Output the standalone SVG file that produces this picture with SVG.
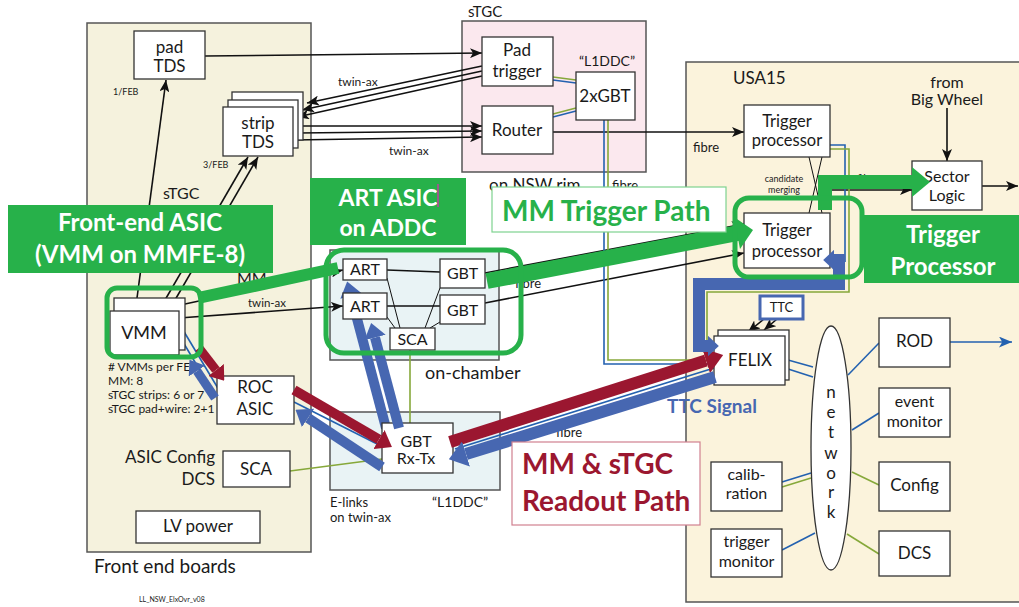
<svg xmlns="http://www.w3.org/2000/svg" width="1019" height="607" viewBox="0 0 1019 607">
<defs>
<style>
text{font-family:Lato,"Liberation Sans",sans-serif;fill:#1a1a1a}
.box{fill:#fff;stroke:#333;stroke-width:1.3}
.panel{stroke:#555;stroke-width:1.5}
.c{text-anchor:middle}
.f17{font-size:17px}
.f16{font-size:16px}
.f13{font-size:13px}
.f12{font-size:12px}
.ln{stroke:#111;stroke-width:1.6;fill:none}
.thin{stroke:#111;stroke-width:1;fill:none}
.fb{stroke:#2361b0;stroke-width:1.6;fill:none}
.fg{stroke:#86a83a;stroke-width:1.6;fill:none}
.ring{fill:none;stroke:#27b14a;stroke-width:5}
.call{font-weight:bold;fill:#fff;text-anchor:middle}
</style>
<marker id="arr" viewBox="0 0 12 10" refX="12" refY="5" markerWidth="12" markerHeight="10" markerUnits="userSpaceOnUse" orient="auto"><path d="M0,0 L12,5 L0,10 L3,5 z" fill="#111"/></marker>
<marker id="arrB" viewBox="0 0 12 10" refX="12" refY="5" markerWidth="13" markerHeight="11" markerUnits="userSpaceOnUse" orient="auto"><path d="M0,0 L12,5 L0,10 L3,5 z" fill="#2361b0"/></marker>
<marker id="hr" viewBox="0 0 8 12" refX="0" refY="6" markerWidth="1.5" markerHeight="2.2" preserveAspectRatio="none" markerUnits="strokeWidth" orient="auto"><path d="M0,0 L8,6 L0,12 z" fill="#9b1730"/></marker>
<marker id="hb" viewBox="0 0 8 12" refX="0" refY="6" markerWidth="1.5" markerHeight="2.2" preserveAspectRatio="none" markerUnits="strokeWidth" orient="auto"><path d="M0,0 L8,6 L0,12 z" fill="#4767b1"/></marker>
<marker id="hbs" viewBox="0 0 8 12" refX="0" refY="6" markerWidth="0.9" markerHeight="1.7" preserveAspectRatio="none" markerUnits="strokeWidth" orient="auto-start-reverse"><path d="M0,0 L8,6 L0,12 z" fill="#4767b1"/></marker>
</defs>

<rect width="1019" height="607" fill="#fff"/>

<!-- enclosing areas -->
<g id="panels">
  <rect class="panel" x="87" y="23" width="224" height="529" fill="#f5f2dd"/>
  <rect class="panel" x="462" y="21" width="184" height="151" fill="#fbe8ee"/>
  <rect class="panel" x="686" y="62" width="345" height="540" fill="#fbf3dc"/>
  <rect class="panel" x="330" y="250" width="169" height="110" fill="#e9f3f5"/>
  <rect class="panel" x="330" y="412" width="170" height="78" fill="#e9f3f5"/>
</g>

<!-- links -->
<g id="connectors">
  <line class="ln" x1="205" y1="56" x2="482" y2="53" marker-end="url(#arr)"/>
  <line class="ln" x1="137" y1="298" x2="166" y2="80" marker-end="url(#arr)"/>
  <line class="ln" x1="165" y1="300" x2="248" y2="157" marker-end="url(#arr)"/>
  <line class="ln" x1="175" y1="300" x2="258" y2="157" marker-end="url(#arr)"/>
  <line class="ln" x1="482" y1="66" x2="307" y2="103" marker-end="url(#arr)"/>
  <line class="ln" x1="482" y1="71" x2="302" y2="110" marker-end="url(#arr)"/>
  <line class="ln" x1="482" y1="76" x2="297" y2="117" marker-end="url(#arr)"/>
  <line class="ln" x1="303" y1="126" x2="482" y2="126" marker-end="url(#arr)"/>
  <line class="ln" x1="298" y1="133" x2="482" y2="131" marker-end="url(#arr)"/>
  <line class="ln" x1="293" y1="140" x2="482" y2="137" marker-end="url(#arr)"/>
  <line class="ln" x1="553" y1="132" x2="744" y2="132" marker-end="url(#arr)"/>
  <line class="ln" x1="179" y1="318" x2="343" y2="306" marker-end="url(#arr)"/>
  <line class="ln" x1="185" y1="304" x2="343" y2="270" marker-end="url(#arr)"/>
  <line class="ln" x1="387" y1="270" x2="440" y2="272"/>
  <line class="ln" x1="387" y1="306" x2="440" y2="306"/>
  <line class="thin" x1="387" y1="278" x2="400" y2="328"/>
  <line class="thin" x1="387" y1="317" x2="395" y2="328"/>
  <line class="thin" x1="440" y1="288" x2="425" y2="328"/>
  <line class="thin" x1="440" y1="322" x2="430" y2="328"/>
  <line class="ln" x1="485" y1="303" x2="744" y2="253" marker-end="url(#arr)"/>
  <line class="ln" x1="485" y1="273" x2="744" y2="224" marker-end="url(#arr)"/>
  <line class="thin" x1="809" y1="157" x2="822" y2="213"/>
  <line class="thin" x1="822" y1="157" x2="809" y2="213"/>
  <line class="ln" x1="830" y1="190" x2="912" y2="190" marker-end="url(#arr)"/>
  <line class="ln" x1="947" y1="108" x2="947" y2="161" marker-end="url(#arr)"/>
  <line class="ln" x1="982" y1="186" x2="1018" y2="186" marker-end="url(#arr)"/>
  <line class="ln" x1="770" y1="314" x2="748" y2="332" marker-end="url(#arr)"/>
  <line class="ln" x1="783" y1="314" x2="764" y2="330" marker-end="url(#arr)"/>

  <!-- optical / e-link pairs -->
  <line class="fg" x1="553" y1="77" x2="576" y2="80"/>
  <line class="fb" x1="553" y1="80" x2="576" y2="83"/>
  <line class="fg" x1="553" y1="114" x2="576" y2="108"/>
  <line class="fb" x1="553" y1="117" x2="576" y2="111"/>
  <path class="fb" d="M604,120 V364 H714"/>
  <path class="fg" d="M608,120 V360 H714"/>
  <path class="fb" d="M830,145 H845 V262"/>
  <path class="fg" d="M830,149 H849 V292 H707 V357 H714"/>
  <line class="fb" x1="183" y1="330" x2="219" y2="390" stroke-width="1.2"/>
  <line class="fb" x1="180" y1="337" x2="214" y2="394" stroke-width="1.2"/>
  <line class="fb" x1="294" y1="402" x2="387" y2="449" stroke-width="1.2"/>
  <line class="fb" x1="455" y1="449" x2="714" y2="368" stroke-width="1.2"/>
  <line class="fg" x1="290" y1="471" x2="382" y2="459"/>
  <line class="fg" x1="410" y1="350" x2="410" y2="423"/>
  <line class="fb" x1="788" y1="360" x2="813" y2="367"/>
  <line class="fb" x1="785" y1="368" x2="813" y2="377"/>
  <line class="fb" x1="848" y1="375" x2="879" y2="343"/>
  <line class="fb" x1="950" y1="342" x2="1012" y2="342" marker-end="url(#arrB)"/>
  <line class="fb" x1="852" y1="430" x2="879" y2="413"/>
  <line class="fg" x1="852" y1="472" x2="879" y2="485"/>
  <line class="fg" x1="847" y1="534" x2="879" y2="554"/>
  <line class="fb" x1="782" y1="482" x2="811" y2="473"/>
  <line class="fg" x1="782" y1="487" x2="811" y2="478"/>
  <line class="fb" x1="782" y1="550" x2="815" y2="533"/>

  <!-- configuration link up to the upper ART, passing behind the lower one -->
  <line x1="386" y1="428" x2="351" y2="296" stroke="#4767b1" stroke-width="10" marker-end="url(#hb)"/>
</g>

<!-- front end boards -->
<g id="pad-tds">
  <rect class="box" x="134" y="31" width="71" height="48"/>
  <text class="c f17" x="169.5" y="53">pad</text>
  <text class="c f17" x="169.5" y="72">TDS</text>
</g>
<g id="strip-tds">
  <rect class="box" x="232" y="92" width="71" height="48"/>
  <rect class="box" x="228" y="100" width="70" height="48"/>
  <rect class="box" x="223" y="107" width="70" height="49"/>
  <text class="c f17" x="258" y="129">strip</text>
  <text class="c f17" x="258" y="148">TDS</text>
</g>
<g id="vmm">
  <rect class="box" x="114" y="298" width="71" height="52"/>
  <rect class="box" x="110" y="311" width="69" height="44"/>
  <text class="c" x="144" y="339" font-size="18">VMM</text>
</g>
<g id="roc-asic">
  <rect class="box" x="217" y="376" width="77" height="48"/>
  <text class="c f17" x="255" y="393">ROC</text>
  <text class="c f17" x="255" y="415">ASIC</text>
</g>
<g id="sca-feb">
  <rect class="box" x="223" y="451" width="67" height="36"/>
  <text class="c f17" x="256" y="475">SCA</text>
</g>
<g id="lv-power">
  <rect class="box" x="136" y="511" width="124" height="32"/>
  <text class="c f17" x="198" y="532">LV power</text>
</g>

<!-- rim electronics -->
<g id="pad-trigger">
  <rect class="box" x="482" y="37" width="71" height="49"/>
  <text class="c f17" x="517" y="56">Pad</text>
  <text class="c f17" x="517" y="77">trigger</text>
</g>
<g id="router">
  <rect class="box" x="482" y="106" width="71" height="48"/>
  <text class="c f17" x="517" y="136">Router</text>
</g>
<g id="l1ddc-rim">
  <rect class="box" x="576" y="72" width="59" height="48"/>
  <text class="c f17" x="605" y="102">2xGBT</text>
</g>

<!-- on-chamber -->
<g id="art-1">
  <rect class="box" x="343" y="259" width="44" height="21"/>
  <text class="c f16" x="365" y="275">ART</text>
</g>
<g id="art-2">
  <rect class="box" x="343" y="293" width="44" height="26"/>
  <text class="c f16" x="365" y="312">ART</text>
</g>
<g id="gbt-1">
  <rect class="box" x="440" y="259" width="45" height="29"/>
  <text class="c f16" x="462.5" y="279">GBT</text>
</g>
<g id="gbt-2">
  <rect class="box" x="440" y="295" width="45" height="29"/>
  <text class="c f16" x="462.5" y="316">GBT</text>
</g>
<g id="sca-addc">
  <rect class="box" x="390" y="328" width="45" height="22"/>
  <text class="c f16" x="412.5" y="345">SCA</text>
</g>
<g id="gbt-rxtx">
  <rect class="box" x="382" y="423" width="71" height="50"/>
  <text class="c f16" x="416" y="447">GBT</text>
  <text class="c f16" x="416" y="464">Rx-Tx</text>
</g>

<!-- USA15 -->
<g id="trigger-proc-1">
  <rect class="box" x="744" y="105" width="86" height="52"/>
  <text class="c" x="787" y="127" font-size="16.5">Trigger</text>
  <text class="c" x="787" y="146" font-size="16.5">processor</text>
</g>
<g id="trigger-proc-2">
  <rect class="box" x="744" y="213" width="86" height="55"/>
  <text class="c" x="787" y="236" font-size="16.5">Trigger</text>
  <text class="c" x="787" y="257" font-size="16.5">processor</text>
</g>
<g id="sector-logic">
  <rect class="box" x="912" y="161" width="70" height="49"/>
  <text class="c f16" x="947" y="182">Sector</text>
  <text class="c f16" x="947" y="201">Logic</text>
</g>
<g id="felix">
  <rect class="box" x="718" y="330" width="71" height="50"/>
  <rect class="box" x="714" y="336" width="71" height="49"/>
  <text class="c f17" x="750" y="366">FELIX</text>
</g>
<g id="ttc">
  <rect x="760" y="296" width="43" height="23" fill="#fff" stroke="#4767b1" stroke-width="3"/>
  <text class="c f13" x="781.5" y="312">TTC</text>
</g>
<g id="network">
  <ellipse cx="831" cy="448" rx="20" ry="122" fill="#fff" stroke="#333" stroke-width="1.3"/>
  <text class="c f17" x="831" y="398">n</text>
  <text class="c f17" x="831" y="418">e</text>
  <text class="c f17" x="831" y="438">t</text>
  <text class="c f17" x="831" y="459">w</text>
  <text class="c f17" x="831" y="479">o</text>
  <text class="c f17" x="831" y="498">r</text>
  <text class="c f17" x="831" y="518">k</text>
</g>
<g id="rod">
  <rect class="box" x="879" y="318" width="71" height="49"/>
  <text class="c f17" x="914.5" y="347">ROD</text>
</g>
<g id="event-monitor">
  <rect class="box" x="879" y="388" width="71" height="49"/>
  <text class="c f16" x="914.5" y="407">event</text>
  <text class="c f16" x="914.5" y="427">monitor</text>
</g>
<g id="config">
  <rect class="box" x="879" y="462" width="71" height="49"/>
  <text class="c f17" x="914.5" y="491">Config</text>
</g>
<g id="dcs">
  <rect class="box" x="879" y="531" width="71" height="45"/>
  <text class="c f17" x="914.5" y="559">DCS</text>
</g>
<g id="calibration">
  <rect class="box" x="711" y="462" width="71" height="49"/>
  <text class="c f16" x="746.5" y="480">calib-</text>
  <text class="c f16" x="746.5" y="499">ration</text>
</g>
<g id="trigger-monitor">
  <rect class="box" x="711" y="529" width="71" height="48"/>
  <text class="c f16" x="746.5" y="547">trigger</text>
  <text class="c f16" x="746.5" y="567">monitor</text>
</g>

<!-- labels -->
<g id="labels">
  <text x="113" y="95" font-size="9" fill="#333">1/FEB</text>
  <text x="203" y="168" font-size="9" fill="#333">3/FEB</text>
  <text class="f16" x="163" y="199">sTGC</text>
  <text class="f16" x="237" y="284">MM</text>
  <text x="248" y="307" font-size="11.5">twin-ax</text>
  <text class="f12" x="338" y="86">twin-ax</text>
  <text class="f12" x="389" y="155">twin-ax</text>
  <text x="468" y="17" font-size="15">sTGC</text>
  <text class="c" x="607" y="66" font-size="14">“L1DDC”</text>
  <text class="f17" x="489" y="191">on NSW rim</text>
  <text class="f13" x="612" y="190">fibre</text>
  <text class="f13" x="693" y="152">fibre</text>
  <text class="f13" x="515" y="288">fibre</text>
  <text class="f13" x="556" y="437">fibre</text>
  <text x="857" y="183" font-size="11">fibre</text>
  <text class="f17" x="733" y="84">USA15</text>
  <text class="c f16" x="947" y="88">from</text>
  <text class="c f16" x="947" y="105">Big Wheel</text>
  <text class="c" x="784" y="182" font-size="9">candidate</text>
  <text class="c" x="784" y="193" font-size="9">merging</text>
  <text x="425" y="379" font-size="18">on-chamber</text>
  <text class="f13" x="330" y="507">E-links</text>
  <text class="f13" x="330" y="522">on twin-ax</text>
  <text x="432" y="507" font-size="14">“L1DDC”</text>
  <text class="f17" x="215" y="463" text-anchor="end">ASIC Config</text>
  <text class="f17" x="215" y="485" text-anchor="end">DCS</text>
  <text x="94" y="573" font-size="19">Front end boards</text>
  <text x="139" y="602" font-size="7" fill="#333">LL_NSW_ElxOvr_v08</text>
  <text class="f12" x="108" y="371" fill="#333">
    <tspan x="108" y="371"># VMMs per FEB</tspan>
    <tspan x="108" y="385">MM: 8</tspan>
    <tspan x="108" y="399">sTGC strips: 6 or 7</tspan>
    <tspan x="108" y="413">sTGC pad+wire: 2+1</tspan>
  </text>
</g>

<!-- data paths -->
<g id="paths">
  <line x1="199" y1="348" x2="216" y2="370" stroke="#9b1730" stroke-width="9" marker-end="url(#hr)"/>
  <line x1="215" y1="398" x2="197" y2="371" stroke="#4767b1" stroke-width="9" marker-end="url(#hb)"/>
  <line x1="294" y1="390" x2="379" y2="439.5" stroke="#9b1730" stroke-width="10" marker-end="url(#hr)"/>
  <line x1="382" y1="467" x2="308" y2="418" stroke="#4767b1" stroke-width="10" marker-end="url(#hb)"/>
  <line x1="399" y1="428" x2="375" y2="337.5" stroke="#4767b1" stroke-width="10" marker-end="url(#hb)"/>
  <line x1="450" y1="442" x2="706" y2="360.5" stroke="#9b1730" stroke-width="12" marker-end="url(#hr)"/>
  <line x1="715" y1="377" x2="466" y2="454" stroke="#4767b1" stroke-width="12" marker-end="url(#hb)"/>
  <path d="M708,346 H699 V284 H839 V260 H834" fill="none" stroke="#4767b1" stroke-width="12" marker-start="url(#hbs)" marker-end="url(#hbs)"/>
  <line x1="198" y1="298" x2="338" y2="268" stroke="#27b14a" stroke-width="12"/>
  <line x1="487" y1="281" x2="738" y2="233" stroke="#27b14a" stroke-width="16"/>
  <polygon points="734,217 753,230 740,249" fill="#27b14a"/>
  <path d="M825,210 V182 H914" fill="none" stroke="#27b14a" stroke-width="14"/>
  <polygon points="912,167 930,182 912,197" fill="#27b14a"/>
</g>

<!-- highlight rings -->
<g id="rings">
  <rect class="ring" x="107" y="288" width="94" height="69" rx="10"/>
  <rect class="ring" x="326" y="250" width="195" height="103" rx="18"/>
  <rect class="ring" x="735" y="198" width="127" height="79" rx="14"/>
</g>

<!-- callouts -->
<g id="callout-frontend">
  <rect x="8" y="205" width="265" height="68" fill="#27b14a"/>
  <text class="call" x="140" y="231" font-size="24">Front-end ASIC</text>
  <text class="call" x="140" y="263" font-size="24">(VMM on MMFE-8)</text>
</g>
<g id="callout-art">
  <rect x="310" y="178" width="156" height="67" fill="#27b14a"/>
  <text class="call" x="388" y="206" font-size="23">ART ASIC</text>
  <text class="call" x="388" y="236" font-size="23">on ADDC</text>
  <line x1="438" y1="184" x2="438" y2="207" stroke="#c040a0" stroke-width="1.5"/>
</g>
<g id="callout-trigger">
  <rect x="864" y="215" width="160" height="68" fill="#27b14a"/>
  <text class="call" x="943" y="243" font-size="24">Trigger</text>
  <text class="call" x="943" y="275" font-size="24">Processor</text>
</g>
<g id="callout-mm-trigger">
  <rect x="492" y="187" width="234" height="45" fill="#fff" stroke="#7ed38f" stroke-width="1.2"/>
  <text x="502" y="221" font-size="28" font-weight="bold" style="fill:#27b14a">MM Trigger Path</text>
</g>
<g id="callout-readout">
  <rect x="512" y="442" width="188" height="83" fill="#fff" stroke="#d08090" stroke-width="1.2"/>
  <text x="522" y="474" font-size="28" font-weight="bold" style="fill:#9b1730">MM &amp; sTGC</text>
  <text x="522" y="511" font-size="28" font-weight="bold" style="fill:#9b1730">Readout Path</text>
</g>
<text x="667" y="413" font-size="19" font-weight="bold" style="fill:#4767b1">TTC Signal</text>
</svg>
